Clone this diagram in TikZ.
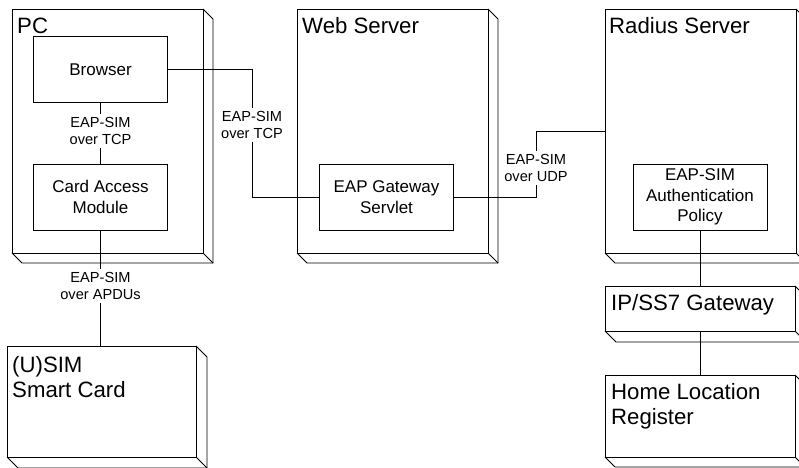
\documentclass[tikz,border=0pt]{standalone}
\usepackage{fontspec}
\setmainfont{Liberation Sans}
\usetikzlibrary{calc}
\tikzset{
 frontbox/.style={draw, line width=0.9pt, fill=white, inner sep=0pt, outer sep=0pt, anchor=north west},
 innerbox/.style={draw, line width=0.9pt, fill=white, inner sep=0pt, outer sep=0pt, align=center,
   minimum width=134pt, minimum height=66pt, font=\fontsize{17}{20.5}\selectfont},
 titletext/.style={anchor=base west, inner sep=0pt, align=left, font=\fontsize{22.2}{25}\selectfont},
 conlabel/.style={align=center, inner sep=3pt, font=\fontsize{14.6}{17.3}\selectfont},
 wire/.style={line width=0.9pt},
}
\newcommand\boxdepth[2]{%
  \draw[wire] (#1.north east) -- ++(#2,#2) -- ($(#1.south east)+(#2,#2)$) -- ($(#1.south west)+(#2,#2)$) -- (#1.south west);
  \draw[wire] (#1.south east) -- ++(#2,#2);}
\begin{document}
\begin{tikzpicture}[x=1pt,y=-1pt]
\useasboundingbox (0,0) rectangle (799,467);
\clip (0,0) rectangle (799,467);
% 3D node boxes
\node[frontbox, minimum width=191pt, minimum height=244pt] (pc) at (12,9) {};
\boxdepth{pc}{10}
\node[frontbox, minimum width=191pt, minimum height=244pt] (web) at (297,9) {};
\boxdepth{web}{10}
\node[frontbox, minimum width=191pt, minimum height=244pt] (radius) at (605,9) {};
\boxdepth{radius}{10}
\node[frontbox, minimum width=189pt, minimum height=111pt] (usim) at (7,346) {};
\boxdepth{usim}{11}
\node[frontbox, minimum width=190pt, minimum height=45pt] (ip) at (605,286) {};
\boxdepth{ip}{11}
\node[frontbox, minimum width=190pt, minimum height=82pt] (hlr) at (605,375) {};
\boxdepth{hlr}{10}
% titles (base anchor of a multi-line node is its last line)
\node[titletext] (pcT) at ($(pc.north west)+(5,24)$) {PC};
\node[titletext] (webT) at ($(web.north west)+(5,24)$) {Web Server};
\node[titletext] (radiusT) at ($(radius.north west)+(4,24)$) {Radius Server};
\node[titletext] (usimT) at ($(usim.north west)+(5,51)$) {(U)SIM\\Smart Card};
\node[titletext] (ipT) at ($(ip.north west)+(6,24)$) {IP/SS7 Gateway};
\node[titletext] (hlrT) at ($(hlr.north west)+(6,49)$) {Home Location\\Register};
% inner components
\node[innerbox] (browser) at (100.5,69.5) {Browser};
\node[innerbox] (cam) at (100.5,197) {Card Access\\Module};
\node[innerbox] (servlet) at (386.5,197) {EAP Gateway\\Servlet};
\node[innerbox] (policy) at (700,197) {EAP-SIM\\Authentication\\Policy};
% connector labels
\node[conlabel] (lblPC) at (browser.south |- 0,131) {EAP-SIM\\over TCP};
\node[conlabel] (lblTCP) at (252,125) {EAP-SIM\\over TCP};
\node[conlabel] (lblUDP) at (536,168) {EAP-SIM\\over UDP};
\node[conlabel] (lblAPDU) at (cam.south |- 0,286) {EAP-SIM\\over APDUs};
% connectors
\draw[wire] (browser.south) -- (lblPC);
\draw[wire] (lblPC) -- (cam.north);
\draw[wire] (browser.east) -| (lblTCP);
\draw[wire] (lblTCP) |- (servlet.west);
\draw[wire] (servlet.east) -| (lblUDP);
\draw[wire] (lblUDP) |- (radius.west);
\draw[wire] (cam.south) -- (lblAPDU);
\draw[wire] (lblAPDU) -- (lblAPDU |- usim.north);
\draw[wire] (policy.south) -- (policy.south |- ip.north);
\draw[wire] (policy.south |- ip.south) -- (policy.south |- hlr.north);
\end{tikzpicture}
\end{document}
